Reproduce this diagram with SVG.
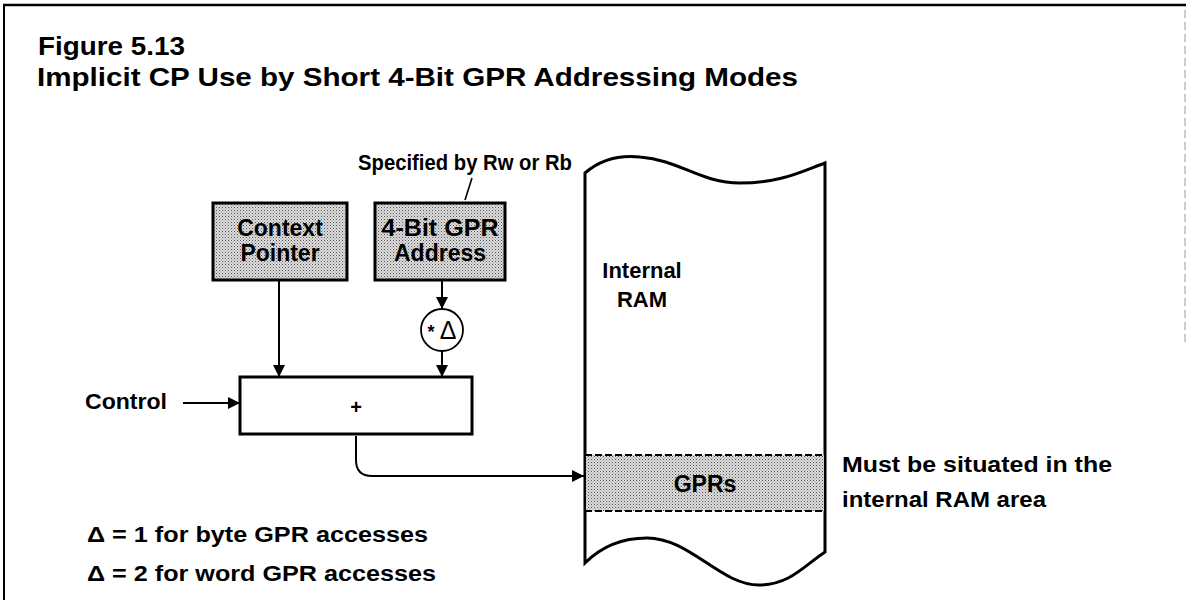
<svg xmlns="http://www.w3.org/2000/svg" width="1188" height="607" viewBox="0 0 1188 607">
<style>
text{font-family:"Liberation Sans",Arial,sans-serif;fill:#000}
.t{font-size:25px;font-weight:bold}
.l{font-size:22px;font-weight:bold}
.b{font-size:23px;font-weight:bold;text-anchor:middle}
.ln{fill:none;stroke:#000;stroke-width:2}
.box{stroke:#000;stroke-width:3}
</style>
<defs>
<pattern id="dots" width="3" height="3" patternUnits="userSpaceOnUse">
<rect width="3" height="3" fill="#dcdcdc"/>
<rect width="1" height="1" fill="#555"/>
<rect x="1.5" y="1.5" width="1" height="1" fill="#888"/>
</pattern>
<marker id="ah" viewBox="0 0 12 12" refX="12" refY="6" markerWidth="12" markerHeight="12" markerUnits="userSpaceOnUse" orient="auto">
<path d="M0,0 L12,6 L0,12 Z" fill="#000"/>
</marker>
</defs>
<rect width="1188" height="607" fill="#fff"/>
<g id="frame">
<line x1="3" y1="5" x2="1186" y2="5" stroke="#000" stroke-width="2.5"/>
<line x1="4" y1="5" x2="4" y2="600" stroke="#000" stroke-width="2"/>
<line x1="1185" y1="10" x2="1185" y2="345" stroke="#999" stroke-width="1" stroke-dasharray="8,4"/>
</g>
<g id="title">
<text class="t" x="38" y="55" textLength="147" lengthAdjust="spacingAndGlyphs">Figure 5.13</text>
<text class="t" x="37" y="86" textLength="761" lengthAdjust="spacingAndGlyphs">Implicit CP Use by Short 4-Bit GPR Addressing Modes</text>
</g>
<g id="specified">
<text class="l" x="358" y="170" textLength="214" lengthAdjust="spacingAndGlyphs">Specified by Rw or Rb</text>
<line x1="472" y1="178" x2="465" y2="200" stroke="#000" stroke-width="1.6"/>
</g>
<g id="context-pointer">
<rect class="box" x="213" y="203" width="134" height="77" fill="url(#dots)"/>
<text class="b" x="280" y="236">Context</text>
<text class="b" x="280" y="261">Pointer</text>
</g>
<g id="gpr-address">
<rect class="box" x="375" y="203" width="130" height="77" fill="url(#dots)"/>
<text class="b" x="440" y="236" textLength="117" lengthAdjust="spacingAndGlyphs">4-Bit GPR</text>
<text class="b" x="440" y="261">Address</text>
</g>
<g id="multiplier">
<circle cx="442" cy="330" r="21" fill="#fff" stroke="#000" stroke-width="1.8"/>
<text x="431" y="338" font-size="18" font-weight="bold" text-anchor="middle">*</text>
<text x="448" y="339" font-size="25" text-anchor="middle">Δ</text>
</g>
<g id="adder">
<rect class="box" x="240" y="377" width="232" height="57" fill="#fff"/>
<text x="356" y="414" font-size="20" font-weight="bold" text-anchor="middle">+</text>
</g>
<g id="control">
<text class="l" x="85" y="409" textLength="82" lengthAdjust="spacingAndGlyphs">Control</text>
</g>
<g id="internal-ram">
<path d="M585,173 C600,160 620,155 640,157 C680,160 700,183 740,183 C780,183 800,172 825,163 L825,552 C805,565 790,585 759,585 C720,585 690,538 647,538 C615,538 595,553 585,563 Z" fill="#fff" stroke="#000" stroke-width="3"/>
<text class="l" x="642" y="278" text-anchor="middle">Internal</text>
<text class="l" x="642" y="307" text-anchor="middle">RAM</text>
</g>
<g id="gprs">
<rect x="586" y="455" width="238" height="56" fill="url(#dots)"/>
<line x1="585" y1="455" x2="825" y2="455" stroke="#000" stroke-width="2" stroke-dasharray="7,3"/>
<line x1="585" y1="511" x2="825" y2="511" stroke="#000" stroke-width="2" stroke-dasharray="7,3"/>
<text class="b" x="705" y="492" font-size="22">GPRs</text>
</g>
<g id="note">
<text class="l" x="842" y="472" textLength="270" lengthAdjust="spacingAndGlyphs">Must be situated in the</text>
<text class="l" x="842" y="507" textLength="204" lengthAdjust="spacingAndGlyphs">internal RAM area</text>
</g>
<g id="legend">
<text class="l" x="87" y="542" textLength="341" lengthAdjust="spacingAndGlyphs">Δ = 1 for byte GPR accesses</text>
<text class="l" x="87" y="581" textLength="349" lengthAdjust="spacingAndGlyphs">Δ = 2 for word GPR accesses</text>
</g>
<g id="connectors">
<line class="ln" x1="183" y1="403" x2="240" y2="403" marker-end="url(#ah)"/>
<line class="ln" x1="279" y1="281" x2="279" y2="377" marker-end="url(#ah)"/>
<line class="ln" x1="442" y1="281" x2="442" y2="309" marker-end="url(#ah)"/>
<line class="ln" x1="442" y1="351" x2="442" y2="377" marker-end="url(#ah)"/>
<path class="ln" d="M356,436 V460 Q356,476 372,476 H584" marker-end="url(#ah)"/>
</g>
</svg>
